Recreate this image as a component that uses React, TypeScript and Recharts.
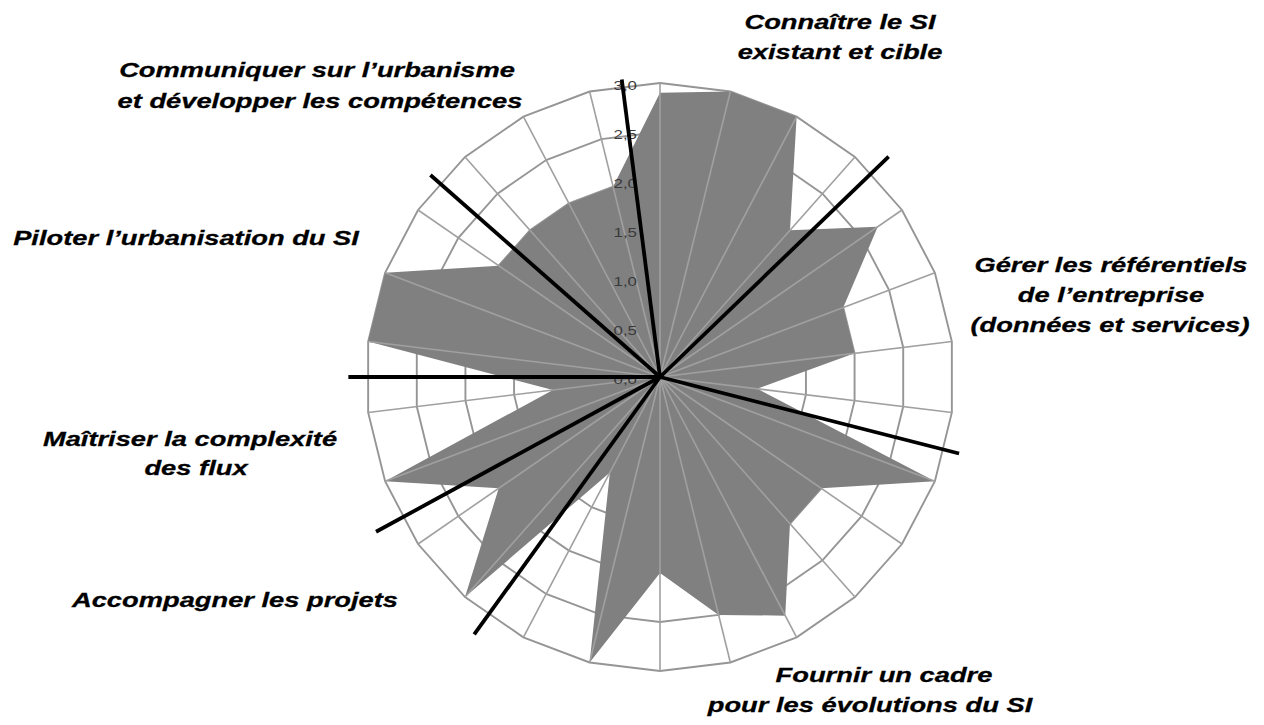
import React from 'react';
import { RadarChart, Radar, PolarGrid, PolarAngleAxis, PolarRadiusAxis } from 'recharts';

// 26 sub-criteria, clockwise from the top
const items = [
  'A1', 'A2', 'A3', 'A4',
  'B1', 'B2', 'B3', 'B4',
  'C1', 'C2', 'C3', 'C4', 'C5', 'C6', 'C7', 'C8',
  'D1', 'D2',
  'E1', 'E2',
  'F1', 'F2', 'F3',
  'G1', 'G2', 'G3',
];
const scores = [
  2.9, 3.0, 3.0, 2.0,
  2.7, 2.0, 2.0, 1.0,
  3.0, 2.0, 2.0, 2.75, 2.5, 2.0, 3.0, 1.1,
  3.0, 2.0,
  3.0, 1.1,
  3.0, 3.0, 2.0,
  2.0, 2.0, 2.0,
];
// themes (groups of consecutive spokes)
const groupNames = [
  ['Connaître le SI', 'existant et cible'],
  ['Gérer les référentiels', 'de l’entreprise', '(données et services)'],
  ['Fournir un cadre', 'pour les évolutions du SI'],
  ['Accompagner les projets'],
  ['Maîtriser la complexité', 'des flux'],
  ['Piloter l’urbanisation du SI'],
  ['Communiquer sur l’urbanisme', 'et développer les compétences'],
];
const groupSizes = [4, 4, 8, 2, 2, 3, 3];
const radiusTicks = [0, 0.5, 1, 1.5, 2, 2.5, 3];

const data = items.map((item, i) => ({ item, score: scores[i] }));

// layout
const W = 1248;
const H = 709;
const CX = 652;
const CY = 369;
const R = 294;
const FONT = '"Liberation Sans", Arial, sans-serif';
const STRETCH = 1.3; // the original text is drawn wide

// hand drawn separators: small angle nudge (deg) and reach relative to the outer ring
const sepStyle = [
  { nudge: -2.4, reach: 1.08 },
  { nudge: 0.5, reach: 1.05 },
  { nudge: 1.2, reach: 1.08 },
  { nudge: -0.9, reach: 1.1 },
  { nudge: 0, reach: 1.06 },
  { nudge: -0.2, reach: 1.04 },
  { nudge: -0.4, reach: 1.02 },
];

// label lines per group: centre x, baseline (page px)
const labelPos = [
  [[840, 29], [840, 59]],
  [[1111, 272], [1111, 302], [1110, 332]],
  [[884, 682], [870, 712]],
  [[235, 607]],
  [[190, 446], [196, 475]],
  [[186, 245]],
  [[317, 77], [320, 108]],
];

const fmt = (v: number) => v.toFixed(1).replace('.', ',');

const RadiusTick = ({ x, y, payload }: any) => (
  <text transform={`translate(${x - 23},${y + 4}) scale(${STRETCH},1)`} textAnchor="end"
    dominantBaseline="middle" fontSize={13} fill="#3a3a3a" fontFamily={FONT}>
    {fmt(payload.value)}
  </text>
);

const Overlay = () => {
  const step = 360 / items.length;
  let end = 0;
  const seps = groupSizes.map((n, g) => {
    end += n;
    const a = (((end - 0.5) * step + sepStyle[g].nudge) * Math.PI) / 180;
    const r = R * sepStyle[g].reach;
    return (
      <line key={`sep-${g}`} x1={CX} y1={CY} x2={CX + r * Math.sin(a)} y2={CY - r * Math.cos(a)}
        stroke="#000" strokeWidth={3.8} />
    );
  });
  const labels = groupNames.map((lines, g) =>
    lines.map((txt, j) => {
      const [x, base] = labelPos[g][j];
      return (
        <text key={`lab-${g}-${j}`} transform={`translate(${x - 8},${base - 8}) scale(${STRETCH},1)`}
          textAnchor="middle" fontFamily={FONT} fontSize={21} fontWeight="bold" fontStyle="italic"
          fill="#000" stroke="#000" strokeWidth={0.3}>
          {txt}
        </text>
      );
    })
  );
  return (
    <svg width={W} height={H} style={{ position: 'absolute', left: 0, top: 0 }}>
      {seps}
      {labels}
    </svg>
  );
};

const layer: React.CSSProperties = { position: 'absolute', left: 0, top: 0 };

export default function App() {
  return (
    <div style={{ position: 'relative', width: W, height: H }}>
      {/* rings under the filled area */}
      <div style={layer}>
        <RadarChart width={W} height={H} data={data} cx={CX} cy={CY} outerRadius={R}
          margin={{ top: 0, right: 0, bottom: 0, left: 0 }}>
          <PolarGrid gridType="polygon" radialLines={false} stroke="#959595" strokeWidth={1.9} />
          <PolarAngleAxis dataKey="item" tick={false} tickLine={false} axisLine={false} />
          <PolarRadiusAxis angle={90} domain={[0, 3]} ticks={radiusTicks} tickCount={7}
            axisLine={false} tickLine={false} tick={false} />
          <Radar dataKey="score" fill="#808080" fillOpacity={1} stroke="none" dot={false} isAnimationActive={false} />
        </RadarChart>
      </div>
      {/* spokes and scale labels over the filled area */}
      <div style={layer}>
        <RadarChart width={W} height={H} data={data} cx={CX} cy={CY} outerRadius={R}
          margin={{ top: 0, right: 0, bottom: 0, left: 0 }}>
          <PolarGrid gridType="polygon" polarRadius={[]} stroke="#a0a0a0" strokeWidth={1.6} />
          <PolarAngleAxis dataKey="item" tick={false} tickLine={false} axisLine={false} />
          <PolarRadiusAxis angle={90} domain={[0, 3]} ticks={radiusTicks} tickCount={7}
            axisLine={false} tickLine={false} tick={<RadiusTick />} />
          <Radar dataKey="score" fill="none" stroke="none" dot={false} isAnimationActive={false} />
        </RadarChart>
      </div>
      <Overlay />
    </div>
  );
}
